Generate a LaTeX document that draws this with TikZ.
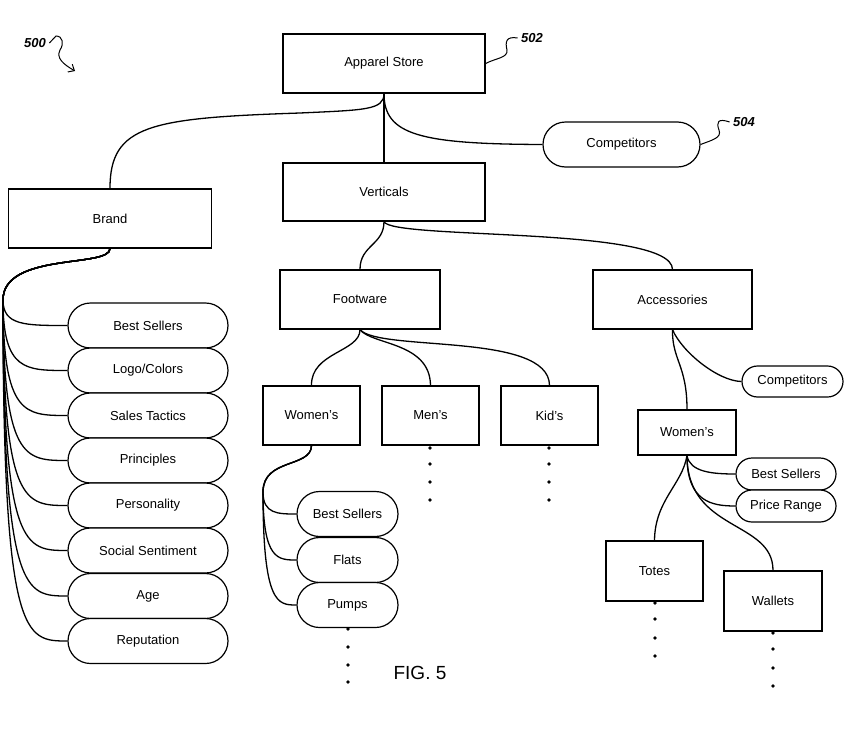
\documentclass[tikz,border=0pt]{standalone}
\usepackage{fontspec}
\setmainfont{Liberation Sans}
\usetikzlibrary{shapes.misc,arrows.meta}
\begin{document}
\begin{tikzpicture}[x=1pt,y=1pt,
  every node/.style={font=\fontsize{13}{15}\selectfont},
  box/.style={draw,line width=1.3pt,fill=white,inner sep=0pt,minimum width=#1},
  pill/.style={draw,rounded rectangle,line width=1.2pt,fill=white,inner sep=0pt,minimum width=#1},
  conn/.style={line width=1.3pt},
  refl/.style={font=\fontsize{13}{15}\selectfont\bfseries\itshape},
  dotm/.style={radius=1.9pt}]
\useasboundingbox (0,0) rectangle (844,-739);
% dots
\foreach \x/\ys in {430/{448,464,482,500},549/{448,464,482,500},348/{629,647,665,682},655/{603,619,638,656},773/{633,649,668,686}}{
  \foreach \y in \ys {\fill (\x,-\y) circle[dotm];}}
% nodes
\node[box=202pt,minimum height=59pt] (store) at (384,-63.5) {Apparel Store};
\node[box=202pt,minimum height=58pt] (vert) at (384,-192) {Verticals};
\node[box=203pt,minimum height=59pt] (brand) at (110,-218.5) {Brand};
\node[pill=157pt,minimum height=45pt] (comp) at (621.5,-144.5) {Competitors};
\node[box=160pt,minimum height=59pt] (foot) at (360,-299.5) {Footware};
\node[box=159pt,minimum height=59pt] (acc) at (672.5,-299.5) {Accessories};
\node[box=97pt,minimum height=59pt] (fw) at (311.5,-415.5) {Women's};
\node[box=97pt,minimum height=59pt] (men) at (430.5,-415.5) {Men's};
\node[box=97pt,minimum height=59pt] (kid) at (549.5,-415.5) {Kid's};
\node[pill=101pt,minimum height=31pt] (acomp) at (792.5,-381.5) {Competitors};
\node[box=98pt,minimum height=45pt] (aw) at (687,-432.5) {Women's};
\node[pill=100pt,minimum height=32pt] (abs) at (786,-474) {Best Sellers};
\node[pill=100pt,minimum height=32pt] (apr) at (786,-506) {Price Range};
\node[box=97pt,minimum height=60pt] (totes) at (654.5,-571) {Totes};
\node[box=98pt,minimum height=60pt] (wal) at (773,-601) {Wallets};
% brand pills
\foreach \n/\t/\y in {b1/Best Sellers/325.5,b2/Logo\slash Colors/370.5,b3/Sales Tactics/415.5,b4/Principles/460.5,b5/Personality/505.5,b6/Social Sentiment/550.5,b7/Age/596,b8/Reputation/641}{
  \node[pill=160pt,minimum height=45pt] (\n) at (148,-\y) {\t};
  \draw[conn] (brand.south) .. controls (110,-268) and (3,-252) .. (3,-300)
     .. controls (3,-\y) and (25,-\y) .. (\n.west);
}
% footware women's pills
\foreach \n/\t/\y in {f1/Best Sellers/514,f2/Flats/560,f3/Pumps/605}{
  \node[pill=101pt,minimum height=45pt] (\n) at (347.5,-\y) {\t};
  \draw[conn] (fw.south) .. controls (311,-468) and (263,-458) .. (263,-492)
     .. controls (263,-\y) and (278,-\y) .. (\n.west);
}
% connectors
\draw[conn] (store.south) -- (vert.north);
\draw[conn] (store.south) .. controls (384,-110) and (365,-110) .. (300,-113)
   .. controls (150,-118) and (110,-125) .. (brand.north);
\draw[conn] (store.south) .. controls (384,-135) and (420,-144) .. (comp.west);
\draw[conn] (vert.south) .. controls (384,-245) and (360,-245) .. (foot.north);
\draw[conn] (vert.south) .. controls (392,-240) and (672,-226) .. (acc.north);
\draw[conn] (foot.south) .. controls (360,-352) and (311,-352) .. (fw.north);
\draw[conn] (foot.south) .. controls (372,-345) and (430,-342) .. (men.north);
\draw[conn] (foot.south) .. controls (380,-352) and (549,-332) .. (kid.north);
\draw[conn] (acc.south) .. controls (682,-352) and (718,-381) .. (acomp.west);
\draw[conn] (acc.south) .. controls (672,-360) and (687,-365) .. (aw.north);
\draw[conn] (aw.south) .. controls (690,-472) and (712,-474) .. (abs.west);
\draw[conn] (aw.south) .. controls (687,-502) and (712,-506) .. (apr.west);
\draw[conn] (aw.south) .. controls (682,-485) and (655,-500) .. (totes.north);
\draw[conn] (aw.south) .. controls (687,-532) and (773,-520) .. (wal.north);
% reference labels
\node[refl] (l500) at (35,-43) {500};
\node[refl] (l502) at (532,-38) {502};
\node[refl] (l504) at (744,-122) {504};
\coordinate (a500) at (75,-71);
\draw[line width=1pt,-{Straight Barb[length=5pt,width=9pt]}] (l500.east) -- (56,-36) .. controls (63,-36) and (64,-44) .. (60,-50) .. controls (56,-58) and (63,-64) .. (a500);
\draw[line width=1pt] (store.east) .. controls (496,-58) and (508,-58) .. (507,-50) .. controls (505,-42) and (506,-36) .. (l502.west);
\draw[line width=1pt] (comp.east) .. controls (712,-140) and (722,-138) .. (719,-130) .. controls (716,-122) and (718,-118) .. (l504.west);
\node[font=\fontsize{19}{22}\selectfont] (fig) at (420,-673) {FIG. 5};
\end{tikzpicture}
\end{document}
